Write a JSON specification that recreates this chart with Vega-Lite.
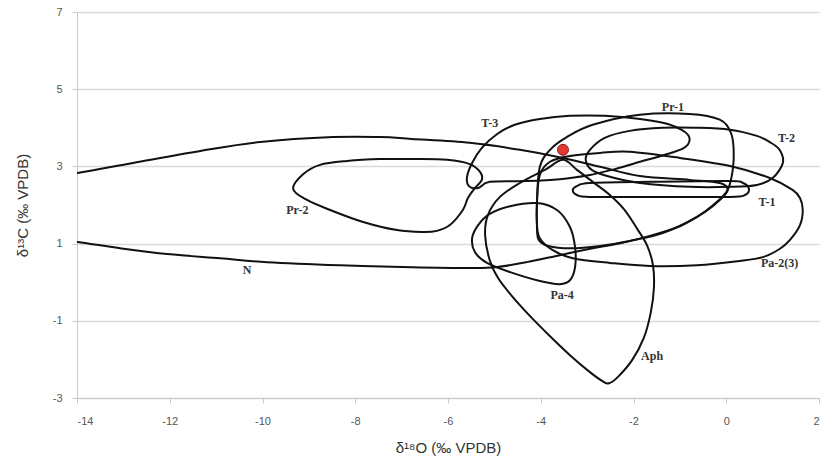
{
  "$schema": "https://vega.github.io/schema/vega-lite/v6.json",
  "autosize": {"type": "none"},
  "padding": {"left": 77, "top": 12, "right": 5, "bottom": 63},
  "width": 742,
  "height": 386,
  "background": "white",
  "config": {"view": {"stroke": null}},
  "datasets": {
    "curves": [
      {"env": "N", "i": 0, "x": -14.79, "y": 2.70},
      {"env": "N", "i": 1, "x": -13.99, "y": 2.83},
      {"env": "N", "i": 2, "x": -12.79, "y": 3.09},
      {"env": "N", "i": 3, "x": -11.34, "y": 3.40},
      {"env": "N", "i": 4, "x": -10.05, "y": 3.63},
      {"env": "N", "i": 5, "x": -8.48, "y": 3.76},
      {"env": "N", "i": 6, "x": -7.46, "y": 3.76},
      {"env": "N", "i": 7, "x": -6.78, "y": 3.71},
      {"env": "N", "i": 8, "x": -5.53, "y": 3.61},
      {"env": "N", "i": 9, "x": -4.45, "y": 3.43},
      {"env": "N", "i": 10, "x": -3.52, "y": 3.22},
      {"env": "N", "i": 11, "x": -2.72, "y": 2.99},
      {"env": "N", "i": 12, "x": -1.86, "y": 2.75},
      {"env": "N", "i": 13, "x": -0.79, "y": 2.65},
      {"env": "N", "i": 14, "x": -0.14, "y": 2.57},
      {"env": "N", "i": 15, "x": 0.03, "y": 2.39},
      {"env": "N", "i": 16, "x": -0.14, "y": 2.13},
      {"env": "N", "i": 17, "x": -0.46, "y": 1.82},
      {"env": "N", "i": 18, "x": -1.00, "y": 1.45},
      {"env": "N", "i": 19, "x": -1.65, "y": 1.20},
      {"env": "N", "i": 20, "x": -2.29, "y": 1.01},
      {"env": "N", "i": 21, "x": -2.88, "y": 0.88},
      {"env": "N", "i": 22, "x": -3.59, "y": 0.70},
      {"env": "N", "i": 23, "x": -4.30, "y": 0.52},
      {"env": "N", "i": 24, "x": -4.97, "y": 0.39},
      {"env": "N", "i": 25, "x": -5.53, "y": 0.37},
      {"env": "N", "i": 26, "x": -6.78, "y": 0.39},
      {"env": "N", "i": 27, "x": -8.33, "y": 0.44},
      {"env": "N", "i": 28, "x": -9.90, "y": 0.52},
      {"env": "N", "i": 29, "x": -10.91, "y": 0.62},
      {"env": "N", "i": 30, "x": -12.05, "y": 0.73},
      {"env": "N", "i": 31, "x": -13.07, "y": 0.88},
      {"env": "N", "i": 32, "x": -13.99, "y": 1.04},
      {"env": "N", "i": 33, "x": -14.79, "y": 1.16},

      {"env": "Pr-2", "i": 0, "x": -9.34, "y": 2.42},
      {"env": "Pr-2", "i": 1, "x": -9.12, "y": 2.80},
      {"env": "Pr-2", "i": 2, "x": -8.76, "y": 3.04},
      {"env": "Pr-2", "i": 3, "x": -8.18, "y": 3.14},
      {"env": "Pr-2", "i": 4, "x": -7.46, "y": 3.19},
      {"env": "Pr-2", "i": 5, "x": -6.75, "y": 3.19},
      {"env": "Pr-2", "i": 6, "x": -6.02, "y": 3.17},
      {"env": "Pr-2", "i": 7, "x": -5.53, "y": 3.06},
      {"env": "Pr-2", "i": 8, "x": -5.31, "y": 2.86},
      {"env": "Pr-2", "i": 9, "x": -5.27, "y": 2.65},
      {"env": "Pr-2", "i": 10, "x": -5.42, "y": 2.44},
      {"env": "Pr-2", "i": 11, "x": -5.57, "y": 2.18},
      {"env": "Pr-2", "i": 12, "x": -5.68, "y": 1.87},
      {"env": "Pr-2", "i": 13, "x": -5.96, "y": 1.48},
      {"env": "Pr-2", "i": 14, "x": -6.24, "y": 1.33},
      {"env": "Pr-2", "i": 15, "x": -6.54, "y": 1.30},
      {"env": "Pr-2", "i": 16, "x": -7.10, "y": 1.35},
      {"env": "Pr-2", "i": 17, "x": -7.83, "y": 1.56},
      {"env": "Pr-2", "i": 18, "x": -8.54, "y": 1.87},
      {"env": "Pr-2", "i": 19, "x": -9.04, "y": 2.13},

      {"env": "Pr-1", "i": 0, "x": -4.08, "y": 1.35},
      {"env": "Pr-1", "i": 1, "x": -4.08, "y": 2.13},
      {"env": "Pr-1", "i": 2, "x": -4.02, "y": 2.99},
      {"env": "Pr-1", "i": 3, "x": -3.80, "y": 3.43},
      {"env": "Pr-1", "i": 4, "x": -3.44, "y": 3.76},
      {"env": "Pr-1", "i": 5, "x": -2.88, "y": 4.08},
      {"env": "Pr-1", "i": 6, "x": -1.86, "y": 4.34},
      {"env": "Pr-1", "i": 7, "x": -0.79, "y": 4.36},
      {"env": "Pr-1", "i": 8, "x": -0.14, "y": 4.21},
      {"env": "Pr-1", "i": 9, "x": 0.10, "y": 3.87},
      {"env": "Pr-1", "i": 10, "x": 0.16, "y": 3.43},
      {"env": "Pr-1", "i": 11, "x": 0.14, "y": 2.91},
      {"env": "Pr-1", "i": 12, "x": 0.03, "y": 2.39},
      {"env": "Pr-1", "i": 13, "x": -0.25, "y": 2.03},
      {"env": "Pr-1", "i": 14, "x": -0.63, "y": 1.69},
      {"env": "Pr-1", "i": 15, "x": -1.37, "y": 1.27},
      {"env": "Pr-1", "i": 16, "x": -2.08, "y": 1.07},
      {"env": "Pr-1", "i": 17, "x": -2.72, "y": 0.94},
      {"env": "Pr-1", "i": 18, "x": -3.37, "y": 0.88},
      {"env": "Pr-1", "i": 19, "x": -3.84, "y": 0.94},
      {"env": "Pr-1", "i": 20, "x": -4.04, "y": 1.09},

      {"env": "Pa-2(3)", "i": 0, "x": -4.08, "y": 2.13},
      {"env": "Pa-2(3)", "i": 1, "x": -4.08, "y": 1.48},
      {"env": "Pa-2(3)", "i": 2, "x": -4.02, "y": 1.14},
      {"env": "Pa-2(3)", "i": 3, "x": -3.74, "y": 0.83},
      {"env": "Pa-2(3)", "i": 4, "x": -3.31, "y": 0.62},
      {"env": "Pa-2(3)", "i": 5, "x": -2.51, "y": 0.50},
      {"env": "Pa-2(3)", "i": 6, "x": -1.65, "y": 0.42},
      {"env": "Pa-2(3)", "i": 7, "x": -0.63, "y": 0.44},
      {"env": "Pa-2(3)", "i": 8, "x": 0.29, "y": 0.55},
      {"env": "Pa-2(3)", "i": 9, "x": 0.79, "y": 0.65},
      {"env": "Pa-2(3)", "i": 10, "x": 1.15, "y": 0.86},
      {"env": "Pa-2(3)", "i": 11, "x": 1.37, "y": 1.09},
      {"env": "Pa-2(3)", "i": 12, "x": 1.59, "y": 1.48},
      {"env": "Pa-2(3)", "i": 13, "x": 1.65, "y": 1.87},
      {"env": "Pa-2(3)", "i": 14, "x": 1.59, "y": 2.18},
      {"env": "Pa-2(3)", "i": 15, "x": 1.43, "y": 2.39},
      {"env": "Pa-2(3)", "i": 16, "x": 0.94, "y": 2.70},
      {"env": "Pa-2(3)", "i": 17, "x": 0.08, "y": 3.01},
      {"env": "Pa-2(3)", "i": 18, "x": -1.00, "y": 3.22},
      {"env": "Pa-2(3)", "i": 19, "x": -2.08, "y": 3.38},
      {"env": "Pa-2(3)", "i": 20, "x": -2.72, "y": 3.35},
      {"env": "Pa-2(3)", "i": 21, "x": -3.37, "y": 3.27},
      {"env": "Pa-2(3)", "i": 22, "x": -3.80, "y": 3.12},
      {"env": "Pa-2(3)", "i": 23, "x": -4.02, "y": 2.78},

      {"env": "T-3", "i": 0, "x": -5.10, "y": 2.60},
      {"env": "T-3", "i": 1, "x": -5.35, "y": 2.44},
      {"env": "T-3", "i": 2, "x": -5.55, "y": 2.49},
      {"env": "T-3", "i": 3, "x": -5.59, "y": 2.73},
      {"env": "T-3", "i": 4, "x": -5.48, "y": 3.09},
      {"env": "T-3", "i": 5, "x": -5.27, "y": 3.48},
      {"env": "T-3", "i": 6, "x": -4.94, "y": 3.84},
      {"env": "T-3", "i": 7, "x": -4.56, "y": 4.08},
      {"env": "T-3", "i": 8, "x": -4.02, "y": 4.23},
      {"env": "T-3", "i": 9, "x": -3.37, "y": 4.31},
      {"env": "T-3", "i": 10, "x": -2.62, "y": 4.31},
      {"env": "T-3", "i": 11, "x": -1.86, "y": 4.23},
      {"env": "T-3", "i": 12, "x": -1.26, "y": 4.10},
      {"env": "T-3", "i": 13, "x": -0.89, "y": 3.89},
      {"env": "T-3", "i": 14, "x": -0.79, "y": 3.69},
      {"env": "T-3", "i": 15, "x": -0.91, "y": 3.48},
      {"env": "T-3", "i": 16, "x": -1.32, "y": 3.30},
      {"env": "T-3", "i": 17, "x": -1.86, "y": 3.12},
      {"env": "T-3", "i": 18, "x": -2.47, "y": 2.91},
      {"env": "T-3", "i": 19, "x": -2.94, "y": 2.78},
      {"env": "T-3", "i": 20, "x": -3.59, "y": 2.67},
      {"env": "T-3", "i": 21, "x": -4.34, "y": 2.62},

      {"env": "T-2", "i": 0, "x": 1.22, "y": 3.09},
      {"env": "T-2", "i": 1, "x": 1.15, "y": 3.43},
      {"env": "T-2", "i": 2, "x": 0.94, "y": 3.63},
      {"env": "T-2", "i": 3, "x": 0.66, "y": 3.79},
      {"env": "T-2", "i": 4, "x": 0.08, "y": 3.95},
      {"env": "T-2", "i": 5, "x": -0.63, "y": 4.00},
      {"env": "T-2", "i": 6, "x": -1.37, "y": 4.00},
      {"env": "T-2", "i": 7, "x": -2.08, "y": 3.92},
      {"env": "T-2", "i": 8, "x": -2.62, "y": 3.74},
      {"env": "T-2", "i": 9, "x": -2.94, "y": 3.43},
      {"env": "T-2", "i": 10, "x": -3.03, "y": 3.17},
      {"env": "T-2", "i": 11, "x": -2.90, "y": 2.91},
      {"env": "T-2", "i": 12, "x": -2.51, "y": 2.73},
      {"env": "T-2", "i": 13, "x": -1.86, "y": 2.57},
      {"env": "T-2", "i": 14, "x": -0.79, "y": 2.47},
      {"env": "T-2", "i": 15, "x": 0.08, "y": 2.47},
      {"env": "T-2", "i": 16, "x": 0.66, "y": 2.52},
      {"env": "T-2", "i": 17, "x": 1.00, "y": 2.70},

      {"env": "T-1", "i": 0, "x": -3.31, "y": 2.39},
      {"env": "T-1", "i": 1, "x": -3.22, "y": 2.49},
      {"env": "T-1", "i": 2, "x": -2.94, "y": 2.57},
      {"env": "T-1", "i": 3, "x": -1.65, "y": 2.60},
      {"env": "T-1", "i": 4, "x": 0.08, "y": 2.62},
      {"env": "T-1", "i": 5, "x": 0.36, "y": 2.57},
      {"env": "T-1", "i": 6, "x": 0.49, "y": 2.42},
      {"env": "T-1", "i": 7, "x": 0.40, "y": 2.26},
      {"env": "T-1", "i": 8, "x": 0.08, "y": 2.21},
      {"env": "T-1", "i": 9, "x": -1.65, "y": 2.21},
      {"env": "T-1", "i": 10, "x": -2.94, "y": 2.21},
      {"env": "T-1", "i": 11, "x": -3.22, "y": 2.26},

      {"env": "Pa-4", "i": 0, "x": -4.08, "y": 2.05},
      {"env": "Pa-4", "i": 1, "x": -3.65, "y": 1.87},
      {"env": "Pa-4", "i": 2, "x": -3.37, "y": 1.43},
      {"env": "Pa-4", "i": 3, "x": -3.26, "y": 0.91},
      {"env": "Pa-4", "i": 4, "x": -3.26, "y": 0.39},
      {"env": "Pa-4", "i": 5, "x": -3.37, "y": 0.05},
      {"env": "Pa-4", "i": 6, "x": -3.59, "y": -0.05},
      {"env": "Pa-4", "i": 7, "x": -4.02, "y": 0.03},
      {"env": "Pa-4", "i": 8, "x": -4.66, "y": 0.26},
      {"env": "Pa-4", "i": 9, "x": -5.16, "y": 0.50},
      {"env": "Pa-4", "i": 10, "x": -5.42, "y": 0.78},
      {"env": "Pa-4", "i": 11, "x": -5.48, "y": 1.14},
      {"env": "Pa-4", "i": 12, "x": -5.35, "y": 1.48},
      {"env": "Pa-4", "i": 13, "x": -5.10, "y": 1.77},
      {"env": "Pa-4", "i": 14, "x": -4.66, "y": 1.97},

      {"env": "Aph", "i": 0, "x": -3.52, "y": 3.17},
      {"env": "Aph", "i": 1, "x": -3.91, "y": 2.91},
      {"env": "Aph", "i": 2, "x": -4.45, "y": 2.57},
      {"env": "Aph", "i": 3, "x": -4.88, "y": 2.21},
      {"env": "Aph", "i": 4, "x": -5.14, "y": 1.74},
      {"env": "Aph", "i": 5, "x": -5.20, "y": 1.22},
      {"env": "Aph", "i": 6, "x": -5.10, "y": 0.57},
      {"env": "Aph", "i": 7, "x": -4.92, "y": 0.11},
      {"env": "Aph", "i": 8, "x": -4.62, "y": -0.36},
      {"env": "Aph", "i": 9, "x": -4.23, "y": -0.88},
      {"env": "Aph", "i": 10, "x": -3.80, "y": -1.40},
      {"env": "Aph", "i": 11, "x": -3.37, "y": -1.89},
      {"env": "Aph", "i": 12, "x": -2.94, "y": -2.33},
      {"env": "Aph", "i": 13, "x": -2.66, "y": -2.57},
      {"env": "Aph", "i": 14, "x": -2.53, "y": -2.62},
      {"env": "Aph", "i": 15, "x": -2.34, "y": -2.46},
      {"env": "Aph", "i": 16, "x": -2.03, "y": -2.02},
      {"env": "Aph", "i": 17, "x": -1.78, "y": -1.45},
      {"env": "Aph", "i": 18, "x": -1.63, "y": -0.80},
      {"env": "Aph", "i": 19, "x": -1.56, "y": -0.15},
      {"env": "Aph", "i": 20, "x": -1.58, "y": 0.44},
      {"env": "Aph", "i": 21, "x": -1.71, "y": 0.96},
      {"env": "Aph", "i": 22, "x": -1.93, "y": 1.40},
      {"env": "Aph", "i": 23, "x": -2.19, "y": 1.87},
      {"env": "Aph", "i": 24, "x": -2.51, "y": 2.26},
      {"env": "Aph", "i": 25, "x": -2.88, "y": 2.60},
      {"env": "Aph", "i": 26, "x": -3.22, "y": 2.91}
    ],
    "labels": [
      {"text": "Pr-1", "x": -1.15, "y": 4.54},
      {"text": "T-3", "x": -5.10, "y": 4.12},
      {"text": "T-2", "x": 1.30, "y": 3.74},
      {"text": "T-1", "x": 0.88, "y": 2.08},
      {"text": "Pr-2", "x": -9.25, "y": 1.87},
      {"text": "N", "x": -10.33, "y": 0.31},
      {"text": "Pa-2(3)", "x": 1.15, "y": 0.50},
      {"text": "Pa-4", "x": -3.54, "y": -0.34},
      {"text": "Aph", "x": -1.60, "y": -1.92}
    ],
    "sample": [
      {"x": -3.52, "y": 3.43}
    ]
  },
  "encoding": {
    "x": {
      "field": "x", "type": "quantitative",
      "scale": {"domain": [-14, 2], "nice": false, "zero": false},
      "axis": {
        "title": "δ¹⁸O (‰ VPDB)",
        "values": [-14, -12, -10, -8, -6, -4, -2, 0, 2],
        "labelExpr": "replace(datum.label, '−', '-')",
        "grid": false,
        "domainColor": "#c8c8c8",
        "tickColor": "#c8c8c8",
        "tickSize": 5,
        "labelPadding": 12,
        "labelFont": "Liberation Sans",
        "labelFontSize": 11,
        "labelColor": "#555555",
        "titleFont": "Liberation Sans",
        "titleFontSize": 15,
        "titleFontWeight": "normal",
        "titleColor": "#333333",
        "titlePadding": 14
      }
    },
    "y": {
      "field": "y", "type": "quantitative",
      "scale": {"domain": [-3, 7], "nice": false, "zero": false},
      "axis": {
        "title": "δ¹³C (‰ VPDB)",
        "values": [-3, -1, 1, 3, 5, 7],
        "labelExpr": "replace(datum.label, '−', '-')",
        "grid": true,
        "gridColor": "#d9d9d9",
        "gridWidth": 1.5,
        "domainColor": "#c8c8c8",
        "tickColor": "#c8c8c8",
        "tickSize": 5,
        "labelPadding": 10,
        "labelFont": "Liberation Sans",
        "labelFontSize": 11,
        "labelColor": "#555555",
        "titleFont": "Liberation Sans",
        "titleFontSize": 15,
        "titleFontWeight": "normal",
        "titleColor": "#333333",
        "titlePadding": 22
      }
    }
  },
  "layer": [
    {
      "data": {"name": "curves"},
      "mark": {"type": "line", "interpolate": "cardinal-closed", "tension": 0, "color": "#111111", "strokeWidth": 2, "clip": true},
      "encoding": {
        "detail": {"field": "env", "type": "nominal"},
        "order": {"field": "i", "type": "quantitative"}
      }
    },
    {
      "data": {"name": "sample"},
      "mark": {"type": "point", "filled": true, "size": 120, "color": "#e23a33", "stroke": "#8a1c1c", "strokeWidth": 1, "opacity": 1}
    },
    {
      "data": {"name": "labels"},
      "mark": {"type": "text", "font": "Liberation Serif", "fontSize": 12, "fontWeight": "bold", "color": "#333333"},
      "encoding": {"text": {"field": "text", "type": "nominal"}}
    }
  ]
}
